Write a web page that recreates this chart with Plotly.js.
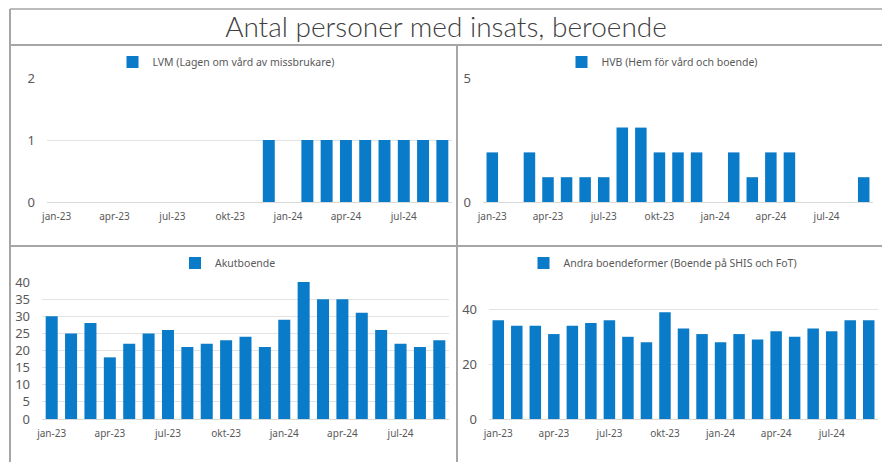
<!DOCTYPE html>
<html>
<head>
<meta charset="utf-8">
<script src="https://cdn.plot.ly/plotly-3.0.1.min.js"></script>
<style>
    html, body { margin: 0; padding: 0; background: #ffffff; }
    #chart { width: 882px; height: 462px; }
</style>
</head>
<body>
<div id="chart"></div>
<script>
const months = ['jan-23', 'feb-23', 'mar-23', 'apr-23', 'maj-23', 'jun-23', 'jul-23', 'aug-23', 'sep-23', 'okt-23', 'nov-23', 'dec-23',
    'jan-24', 'feb-24', 'mar-24', 'apr-24', 'maj-24', 'jun-24', 'jul-24', 'aug-24', 'sep-24'];
const tickLabels = ['jan-23', 'apr-23', 'jul-23', 'okt-23', 'jan-24', 'apr-24', 'jul-24'];

const lvm = [0, 0, 0, 0, 0, 0, 0, 0, 0, 0, 0, 1, 0, 1, 1, 1, 1, 1, 1, 1, 1];
const hvb = [2, 0, 2, 1, 1, 1, 1, 3, 3, 2, 2, 2, 0, 2, 1, 2, 2, 0, 0, 0, 1];
const akut = [30, 25, 28, 18, 22, 25, 26, 21, 22, 23, 24, 21, 29, 40, 35, 35, 31, 26, 22, 21, 23];
const andra = [36, 34, 34, 31, 34, 35, 36, 30, 28, 39, 33, 31, 28, 31, 29, 32, 30, 33, 32, 36, 36];

const seriesNames = [
    'LVM (Lagen om vård av missbrukare)',
    'HVB (Hem för vård och boende)',
    'Akutboende',
    'Andra boendeformer (Boende på SHIS och FoT)',
];

const W = 882;
const H = 462;
const px = (x) => x / W;
const py = (y) => 1 - y / H;

const barColor = '#0a7bc9';
const borderColor = '#a6a6a6';
const textGray = '#595959';
const font = 'Noto Sans, Open Sans, sans-serif';

const values = [lvm, hvb, akut, andra];
const legendIds = ['legend', 'legend2', 'legend3', 'legend4'];
const suffix = ['', '2', '3', '4'];

const traces = values.map((v, i) => ({
    type: 'bar',
    x: months,
    y: v,
    name: seriesNames[i],
    marker: { color: barColor },
    xaxis: `x${suffix[i]}`,
    yaxis: `y${suffix[i]}`,
    legend: legendIds[i],
    showlegend: true,
    hoverinfo: 'x+y',
}));

function xAxis(domain, anchor) {
    return {
        domain,
        anchor,
        type: 'category',
        tickmode: 'array',
        tickvals: tickLabels,
        ticktext: tickLabels,
        tickfont: { family: font, size: 10, color: textGray },
        showgrid: false,
        showline: false,
        ticks: '',
        ticklabelstandoff: 7,
        fixedrange: true,
    };
}

function yAxis(domain, anchor, range, dtick) {
    return {
        domain,
        anchor,
        range,
        dtick,
        tick0: 0,
        tickfont: { family: font, size: 13, color: textGray },
        showgrid: true,
        gridcolor: '#e3e3e3',
        gridwidth: 1,
        zeroline: true,
        zerolinecolor: '#d9d9d9',
        zerolinewidth: 1,
        showline: false,
        ticks: '',
        ticklabelstandoff: 11,
        fixedrange: true,
    };
}

function legendAt(x, y) {
    return {
        x: px(x),
        y: py(y),
        xanchor: 'center',
        yanchor: 'middle',
        orientation: 'h',
        font: { family: font, size: 10.5, color: textGray },
        bgcolor: 'rgba(0,0,0,0)',
        itemwidth: 30,
        itemclick: false,
        itemdoubleclick: false,
    };
}

const topRow = [py(202), py(78)];
const bottomRow = [py(419), py(282)];

function line(x0, y0, x1, y1, width) {
    return {
        type: 'line', xref: 'paper', yref: 'paper',
        x0: px(x0), y0: py(y0), x1: px(x1), y1: py(y1),
        line: { color: borderColor, width },
    };
}

const layout = {
    width: W,
    height: H,
    margin: { t: 0, r: 0, b: 0, l: 0 },
    paper_bgcolor: '#ffffff',
    plot_bgcolor: '#ffffff',
    bargap: 0.38,
    title: {
        text: 'Antal personer med insats, beroende',
        font: { family: 'Lato, Noto Sans, sans-serif', size: 28, weight: 300, color: '#404040' },
        x: px(446),
        xanchor: 'center',
        y: py(27),
        yanchor: 'middle',
    },
    xaxis: xAxis([px(47), px(452)], 'y'),
    yaxis: yAxis(topRow, 'x', [0, 2], 1),
    xaxis2: xAxis([px(483), px(873)], 'y2'),
    yaxis2: yAxis(topRow, 'x2', [0, 5], 5),
    xaxis3: xAxis([px(42), px(449)], 'y3'),
    yaxis3: yAxis(bottomRow, 'x3', [0, 40], 5),
    xaxis4: xAxis([px(489), px(878)], 'y4'),
    yaxis4: yAxis(bottomRow, 'x4', [0, 50], 20),
    legend: legendAt(226, 62),
    legend2: legendAt(662, 62),
    legend3: legendAt(228, 263),
    legend4: legendAt(663, 263),
    shapes: [
        line(10, 9, 882, 9, 1.5),
        line(10, 9, 10, 462, 2),
        line(10, 45, 882, 45, 2),
        line(457, 45, 457, 462, 2),
        line(10, 246, 882, 246, 2),
    ],
};

Plotly.newPlot('chart', traces, layout, { displayModeBar: false, staticPlot: true });
</script>
</body>
</html>
